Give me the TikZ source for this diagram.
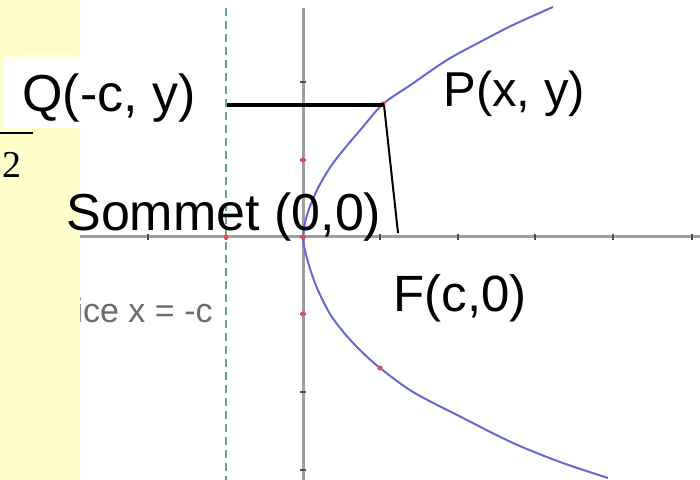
\documentclass[tikz,border=0pt]{standalone}
\usepackage{fontspec}
\setmainfont{Liberation Sans}
\newfontfamily\numfont{Liberation Serif}
\definecolor{panelyellow}{RGB}{255,255,204}
\definecolor{curveblue}{RGB}{104,104,212}
\definecolor{dirgreen}{RGB}{100,170,120}
\definecolor{dotred}{RGB}{225,80,90}

\begin{document}
\begin{tikzpicture}[x=0.5pt, y=-0.5pt,
    every node/.style={inner sep=0pt, font=\fontsize{26}{30}\selectfont},
    axisline/.style={line width=1.5pt, gray!75},
    tickmark/.style={line width=0.7pt, gray!60!black},
    reddot/.style={fill=dotred},
    lbox/.style={fill=white, inner ysep=0pt}]
  \useasboundingbox (0,0) rectangle (700,480);
  \fill[white] (0,0) rectangle (700,480);
  \node[anchor=base east, text=gray!85!black, font=\fontsize{17}{20}\selectfont] (dirlab) at (213,322) {rice x = -c};
  \fill[panelyellow] (0,0) rectangle (80,480);
  % axes and ticks
  \draw[axisline] (80,237) -- (700,237);
  \draw[axisline] (303,8) -- (303,480);
  \foreach \x in {148,226,303,380,458,535,613,692}
    \draw[tickmark] (\x,234) -- (\x,240);
  \foreach \y in {82,160,237,314,392,470}
    \draw[tickmark] (300,\y) -- (306,\y);
  % directrice
  \draw[dirgreen, line width=0.75pt, dash pattern=on 4pt off 2.5pt] (226,8) -- (226,480);
  % parabole
  \draw[curveblue, line width=1pt] plot[smooth] coordinates {
    (553,7) (513,25) (480,42) (447,60) (412,84) (383,104) (362,128) (345,148)
    (331,166) (318,188) (308,212) (303,237) (308,262) (317,288) (330,314)
    (345,334) (362,352) (380,368) (413,392) (463,418) (513,443) (560,462) (608,478)};
  \foreach \p in {(226,237),(303,237),(303,160),(303,314),(383,104),(380,368)}
    \fill[reddot] \p circle (1.3pt);
  % segments
  \coordinate (qd) at (227,105);
  \coordinate (pt) at (384,105);
  \coordinate (foc) at (398,233);
  \draw[line width=2pt] (qd) -- (pt);
  \draw[line width=1pt] (pt) -- (foc);
  % labels
  \node[lbox, anchor=base west, inner xsep=9pt, text height=27.5pt, text depth=8pt] (qlab) at (4,112) {Q(-c, y)};
  \node[anchor=base west, font=\fontsize{24.5}{28}\selectfont] (plab) at (443,107) {P(x, y)};
  \node[anchor=base west] (som) at (66,231) {Sommet (0,0)};
  \node[lbox, anchor=base west, inner xsep=20pt, text height=28.5pt, text depth=9pt, font=\fontsize{25.5}{30}\selectfont] (flab) at (353,312) {F(c,0)};
  \draw[line width=1pt] (0,133) -- (33,133);
  \node[anchor=base west, font=\numfont\fontsize{19}{22}\selectfont] (den) at (2,178) {2};
\end{tikzpicture}
\end{document}
